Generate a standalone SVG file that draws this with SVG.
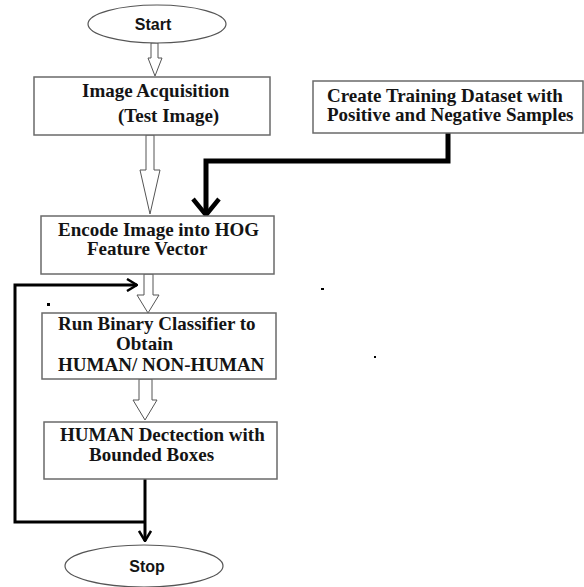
<svg xmlns="http://www.w3.org/2000/svg" width="584" height="587" viewBox="0 0 584 587">
<style>
.bg{fill:#fff}
.box{fill:#fff;stroke:#6a6a6a;stroke-width:1.5}
.ell{fill:#fff;stroke:#555;stroke-width:1.2}
.t{font-family:"Liberation Serif","Times New Roman",serif;font-weight:bold;font-size:19px;fill:#141414}
.s{font-family:"Liberation Sans",Arial,sans-serif;font-weight:bold;font-size:16px;fill:#141414;text-anchor:middle}
.hol{fill:#fff;stroke:#555;stroke-width:1}
.thin{fill:none;stroke:#000;stroke-width:3}
.thick{fill:none;stroke:#000;stroke-width:5}
</style>
<defs>
<marker id="vthin" markerUnits="userSpaceOnUse" viewBox="0 0 12 14" refX="11" refY="7" markerWidth="12" markerHeight="14" orient="auto">
<path d="M1,1 L11,7 L1,13" fill="none" stroke="#000" stroke-width="2.5"/>
</marker>
<marker id="vthick" markerUnits="userSpaceOnUse" viewBox="0 0 20 30" refX="18" refY="15" markerWidth="20" markerHeight="30" orient="auto">
<path d="M2,2 L18,15 L2,28" fill="none" stroke="#000" stroke-width="4.5"/>
</marker>
</defs>
<rect class="bg" x="0" y="0" width="584" height="587"/>

<g id="connectors">
<path class="hol" d="M151,43 L158,43 L158,58 L162,58 L155,76 L148,58 L151,58 Z"/>
<path class="hol" d="M146,135 L154,135 L154,170 L160,170 L150,214 L140,170 L146,170 Z"/>
<path class="hol" d="M144,274 L153,274 L153,295 L159,295 L148,313 L137,295 L144,295 Z"/>
<path class="hol" d="M139,379 L152,379 L152,400 L157,400 L145,420 L133,400 L139,400 Z"/>
<path class="thick" d="M448,133 L448,161 L206,161 L206,215" marker-end="url(#vthick)"/>
<path class="thin" d="M145,522 L15,522 L15,285 L137,285" marker-end="url(#vthin)"/>
<path class="thin" d="M145,479 L145,541" marker-end="url(#vthin)"/>
</g>

<g id="start">
<ellipse class="ell" cx="157" cy="24" rx="69" ry="19"/>
<text class="s" x="153" y="30">Start</text>
</g>

<g id="acquisition">
<rect class="box" x="34" y="77" width="236" height="58"/>
<text class="t" x="82" y="97">Image Acquisition</text>
<text class="t" x="118" y="122">(Test Image)</text>
</g>

<g id="training">
<rect class="box" x="313" y="81" width="270" height="52"/>
<text class="t" x="327" y="102">Create Training Dataset with</text>
<text class="t" x="327" y="121">Positive and Negative Samples</text>
</g>

<g id="encode">
<rect class="box" x="41" y="216" width="233" height="58"/>
<text class="t" x="58" y="236">Encode Image into HOG</text>
<text class="t" x="87" y="255">Feature Vector</text>
</g>

<g id="classifier">
<rect class="box" x="42" y="313" width="234" height="66"/>
<text class="t" x="58" y="330">Run Binary Classifier to</text>
<text class="t" x="116" y="350">Obtain</text>
<text class="t" x="58" y="371">HUMAN/ NON-HUMAN</text>
</g>

<g id="detection">
<rect class="box" x="44" y="422" width="233" height="57"/>
<text class="t" x="60" y="441">HUMAN Dectection with</text>
<text class="t" x="89" y="461">Bounded Boxes</text>
</g>

<g id="stop">
<ellipse class="ell" cx="144" cy="566" rx="79" ry="21"/>
<text class="s" x="147" y="572">Stop</text>
</g>

<g id="dots" fill="#000">
<rect x="47" y="303" width="3" height="3"/>
<rect x="321" y="288" width="3" height="2"/>
<rect x="374" y="356" width="2" height="2"/>
</g>
</svg>
